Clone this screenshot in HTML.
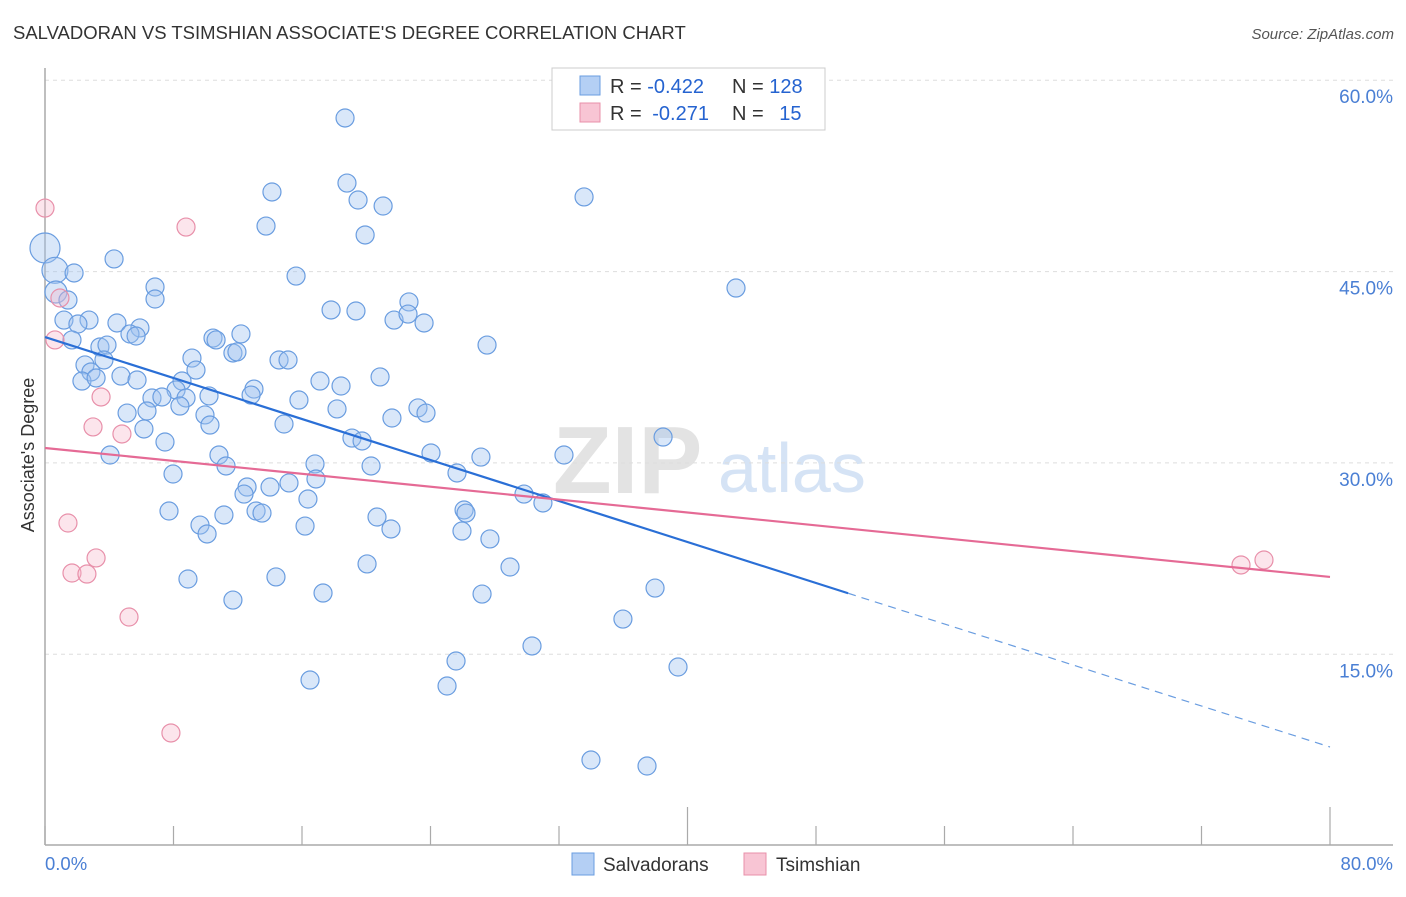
<!DOCTYPE html>
<html><head><meta charset="utf-8"><style>
body{margin:0;background:#fff;font-family:"Liberation Sans",sans-serif}
svg text{font-family:"Liberation Sans",sans-serif}
</style></head><body>
<svg id="chart" width="1406" height="892" viewBox="0 0 1406 892" xmlns="http://www.w3.org/2000/svg">
<text x="13" y="39" font-size="18.5" fill="#333">SALVADORAN VS TSIMSHIAN ASSOCIATE'S DEGREE CORRELATION CHART</text>
<text x="1394" y="39" font-size="15" fill="#555" font-style="italic" text-anchor="end">Source: ZipAtlas.com</text>
<g>
<text x="553" y="493" font-size="96" fill="#e3e3e3" font-family="Liberation Serif" font-weight="bold">ZIP</text>
<text x="718" y="492" font-size="70" fill="#d5e3f5">atlas</text>
</g>
<g id="grid"></g>
<g id="axes"></g>
<g id="marks"></g>
<g id="lines"></g>
<text transform="translate(34,455) rotate(-90)" font-size="18" fill="#333" text-anchor="middle">Associate's Degree</text>
<g>
<rect x="552" y="68" width="273" height="62" fill="#fff" stroke="#ccc"/>
<rect x="580" y="76" width="20" height="19" fill="#b4cff4" stroke="#6a9de0"/>
<rect x="580" y="103" width="20" height="19" fill="#f8c5d4" stroke="#e890aa"/>
<text x="610" y="93" font-size="20" fill="#333">R = <tspan fill="#2563d0">-0.422</tspan><tspan x="732">N = </tspan><tspan fill="#2563d0">128</tspan></text>
<text x="610" y="120" font-size="20" fill="#333">R = <tspan fill="#2563d0" dx="5">-0.271</tspan><tspan x="732">N = </tspan><tspan fill="#2563d0" dx="10">15</tspan></text>
</g>
<g>
<rect x="572" y="853" width="22" height="22" fill="#b4cff4" stroke="#6a9de0"/>
<text x="603" y="871" font-size="19" fill="#333">Salvadorans</text>
<rect x="744" y="853" width="22" height="22" fill="#f8c5d4" stroke="#e890aa"/>
<text x="776" y="871" font-size="19" fill="#333">Tsimshian</text>
</g>
</svg>
<script>
const xTicks=[0,8,16,24,32,40,48,56,64,72,80];
const yTicks=[15,30,45,60];
const yTickLabels=["15.0%","30.0%","45.0%","60.0%"];
const xTickLabels=["0.0%","80.0%"];
const blueX=[18.68,18.8,14.13,19.49,21.05,33.56,13.76,19.93,0,0.62,4.30,1.81,15.63,0.68,6.85,1.43,6.85,43.02,22.66,17.81,19.36,21.73,22.60,23.60,1.18,2.74,2.05,4.48,5.91,5.29,5.67,10.46,10.65,12.20,11.70,11.95,3.42,3.86,1.68,27.52,2.49,3.67,9.15,9.40,14.57,15.13,2.86,4.73,5.73,2.30,3.18,8.53,8.16,17.12,20.86,18.43,13.01,12.83,10.21,6.66,7.28,8.78,8.40,15.81,5.11,6.35,18.18,21.60,23.22,23.72,9.96,10.27,14.88,6.16,7.47,19.11,19.74,24.03,38.48,4.05,10.83,11.27,16.81,20.30,32.31,27.14,25.65,7.97,15.19,16.87,12.58,12.39,14.01,16.37,29.82,31.00,7.72,11.14,13.14,13.51,20.67,26.09,26.21,21.54,16.19,9.65,10.09,25.96,27.70,20.05,28.95,8.90,14.38,17.31,27.21,37.98,11.70,35.98,30.32,25.59,39.41,16.50,25.03,33.99,37.48];
const blueY=[57.04,51.94,51.24,50.61,50.14,50.85,48.57,47.87,46.85,45.1,45.99,44.89,44.65,43.40,43.79,42.77,42.85,43.71,42.62,41.99,41.91,41.20,41.67,40.97,41.20,41.20,40.89,40.97,40.58,40.11,39.95,39.79,39.64,40.11,38.62,38.70,39.09,39.24,39.64,39.24,37.68,38.07,38.22,37.28,38.07,38.07,37.13,36.81,36.50,36.42,36.66,36.42,35.72,36.42,36.74,36.03,35.79,35.32,35.25,35.09,35.17,35.09,34.46,34.93,33.91,34.07,34.23,33.52,34.31,33.91,33.76,32.97,33.05,32.66,31.64,31.95,31.72,30.78,32.03,30.62,30.62,29.76,29.92,29.76,30.62,30.46,29.21,29.13,28.43,28.74,28.11,27.56,28.11,27.17,27.56,26.86,26.23,25.92,26.23,26.07,25.76,26.31,26.07,24.82,25.05,25.13,24.43,24.66,24.04,22.08,21.84,20.90,21.06,19.80,19.72,20.19,19.25,17.76,15.65,14.47,14.00,12.98,12.51,6.71,6.24];
const blueR=[9,9,9,9,9,9,9,9,15,13,9,9,9,11,9,9,9,9,9];
const pinkX=[0,8.78,0.93,0.62,3.49,2.99,4.79,1.43,3.18,1.68,2.61,5.23,7.84,74.46,75.89];
const pinkY=[49.98,48.49,42.93,39.64,35.17,32.82,32.27,25.29,22.55,21.37,21.29,17.92,8.83,22.0,22.39];
const blueFit=[39.87,7.73];const blueSolidEnd=50;
const pinkFit=[31.17,21.06];
const NS="http://www.w3.org/2000/svg";
const X=v=>45+v*16.0625, Y=v=>845.6-v*12.756;
function mk(tag,attrs,parent){const e=document.createElementNS(NS,tag);for(const k in attrs)e.setAttribute(k,attrs[k]);document.getElementById(parent).appendChild(e);return e;}
yTicks.forEach((t,i)=>{
 const g=mk('line',{x1:45,x2:1393,y1:Y(t),y2:Y(t),stroke:'#ddd','stroke-dasharray':'4,4'},'grid');
 
 
 const l=mk('text',{x:1393,y:Y(t)+23,'font-size':19,fill:'#4a7fd4','text-anchor':'end'},'grid');
 l.textContent=yTickLabels[i];
 
 
});
const ax=mk('line',{x1:45,x2:45,y1:68,y2:845,stroke:'#aaa','stroke-width':1.5},'axes');


const bx=mk('line',{x1:45,x2:1393,y1:845,y2:845,stroke:'#aaa','stroke-width':1.5},'axes');


xTicks.forEach(t=>{
 const tall=(t===40||t===80);
 const tk=mk('line',{x1:X(t),x2:X(t),y1:tall?807:826,y2:845,stroke:'#aaa','stroke-width':1.2},'axes');
 
 
});
[[0,'start',45],[80,'end',1393]].forEach((a,i)=>{
 const l=mk('text',{x:a[2],y:870,'font-size':18.5,fill:'#4a7fd4','text-anchor':a[1]},'axes');
 l.textContent=xTickLabels[i];
 
 
});
blueX.forEach((v,i)=>{
 const c=mk('circle',{cx:X(v),cy:Y(blueY[i]),r:blueR[i]||9,fill:'rgba(160,196,240,0.4)',stroke:'#6a9de0','stroke-width':1.2},'marks');
 
 
});
pinkX.forEach((v,i)=>{
 const c=mk('circle',{cx:X(v),cy:Y(pinkY[i]),r:9,fill:'rgba(245,180,200,0.35)',stroke:'#e890aa','stroke-width':1.2},'marks');
 
 
});
const bAt=x=>blueFit[0]+(blueFit[1]-blueFit[0])*x/80;
const b1=mk('line',{x1:X(0),y1:Y(bAt(0)),x2:X(blueSolidEnd),y2:Y(bAt(blueSolidEnd)),stroke:'#2a6fd6','stroke-width':2.2},'lines');


const b2=mk('line',{x1:X(blueSolidEnd),y1:Y(bAt(blueSolidEnd)),x2:X(80),y2:Y(bAt(80)),stroke:'#6a9de0','stroke-width':1.2,'stroke-dasharray':'8,6'},'lines');


const p1=mk('line',{x1:X(0),y1:Y(pinkFit[0]),x2:X(80),y2:Y(pinkFit[1]),stroke:'#e56a95','stroke-width':2.2},'lines');


</script>
</body></html>
